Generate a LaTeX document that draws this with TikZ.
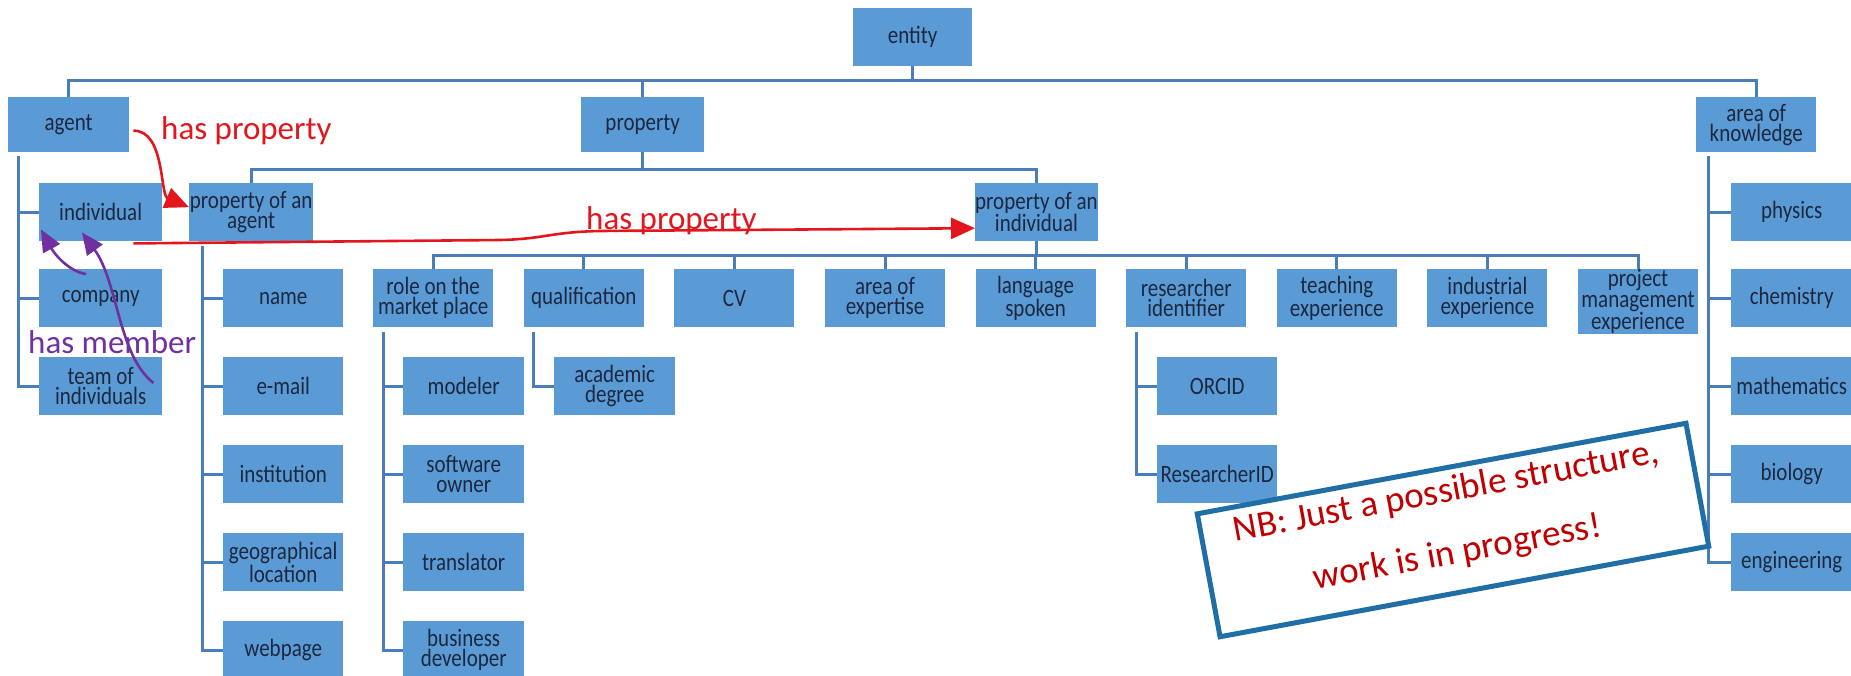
\documentclass[tikz,border=0pt]{standalone}
\usepackage{fontspec}
\setmainfont{Carlito}
\newfontfamily\boxfont{Carlito}[FakeStretch=0.84]
\usetikzlibrary{arrows.meta,calc}
\definecolor{boxblue}{HTML}{5B9BD5}
\definecolor{boxtext}{HTML}{1C2740}
\definecolor{connblue}{HTML}{4A7EBB}
\definecolor{hpred}{HTML}{E3161D}
\definecolor{hmpurple}{HTML}{7030A0}
\definecolor{nbred}{HTML}{C00000}
\definecolor{nbblue}{HTML}{1F6EA6}
\begin{document}
\begin{tikzpicture}[x=1pt,y=-1pt,
  bx/.style={fill=boxblue, text=boxtext, font=\boxfont\fontsize{25}{20}\selectfont, align=center, inner sep=0pt, minimum width=121pt, minimum height=58pt, anchor=north west},
  conn/.style={draw=connblue, line width=3pt},
  hparrow/.style={draw=hpred, line width=2.6pt, -{Triangle[length=24pt,width=21pt]}},
  hmarrow/.style={draw=hmpurple, line width=2.6pt, -{Triangle[length=22pt,width=19pt]}},
  lbl/.style={font=\fontsize{33}{36}\selectfont, inner sep=0pt, anchor=base west}]
\useasboundingbox (0,0) rectangle (1851,675);
\clip (0,0) rectangle (1851,675);

% ---------- boxes ----------
\node[bx, minimum width=119pt] (entity) at (853,8) {entity};
\node[bx, minimum height=55pt] (agent) at (8,97) {agent};
\node[bx, minimum height=55pt, minimum width=123pt] (property) at (581,97) {property};
\node[bx, minimum height=55pt, minimum width=120pt] (aok) at (1696,97) {area of\\knowledge};

\node[bx, minimum width=123pt] (individual) at (39,183) {individual};
\node[bx, minimum width=123pt] (company) at (39,269) {company};
\node[bx, minimum width=123pt] (team) at (39,357) {team of\\individuals};

\node[bx, minimum width=124pt] (propagent) at (189,183) {property of an\\agent};
\node[bx, minimum width=120pt] (propind) at (975,183) {property of an\\individual};

\node[bx, minimum width=120pt] (name) at (223,269) {name};
\node[bx, minimum width=120pt] (email) at (223,357) {e-mail};
\node[bx, minimum width=120pt] (institution) at (223,445) {institution};
\node[bx, minimum width=120pt] (geo) at (223,533) {geographical\\location};
\node[bx, minimum width=120pt] (webpage) at (223,621) {webpage};

\node[bx, minimum width=120pt] (role) at (373,269) {role on the\\market place};
\node[bx, minimum width=120pt] (qual) at (523.6,269) {qualification};
\node[bx, minimum width=120pt] (cv) at (674.2,269) {CV};
\node[bx, minimum width=120pt] (aoe) at (824.8,269) {area of\\expertise};
\node[bx, minimum width=120pt] (lang) at (975.4,269) {language\\spoken};
\node[bx, minimum width=120pt] (resid) at (1126,269) {researcher\\identifier};
\node[bx, minimum width=120pt] (teach) at (1276.6,269) {teaching\\experience};
\node[bx, minimum width=120pt] (indus) at (1427.2,269) {industrial\\experience};
\node[bx, minimum width=120pt] (pm) at (1577.8,269) {project\\management\\experience};

\node[bx] (modeler) at (403,357) {modeler};
\node[bx] (softowner) at (403,445) {software\\owner};
\node[bx] (translator) at (403,533) {translator};
\node[bx] (busdev) at (403,621) {business\\developer};

\node[bx] (acad) at (554,357) {academic\\degree};

\node[bx, minimum width=120pt] (orcid) at (1157,357) {ORCID};
\node[bx, minimum width=120pt] (researcherid) at (1157,445) {ResearcherID};

\node[bx] (physics) at (1731,183) {physics};
\node[bx] (chemistry) at (1731,269) {chemistry};
\node[bx] (mathematics) at (1731,357) {mathematics};
\node[bx] (biology) at (1731,445) {biology};
\node[bx] (engineering) at (1731,533) {engineering};

% ---------- tree connectors ----------
\draw[conn] (entity.south) -- ++(0,14);
\draw[conn] (agent.north) -- ++(0,-17) -| (aok.north);
\draw[conn] (property.north) -- ++(0,-17);

\draw[conn] (property.south) -- ++(0,17);
\draw[conn] (propagent.north) -- ++(0,-14) -| (propind.north);

\draw[conn] (propind.south) -- ++(0,14);
\draw[conn] (role.north) -- ++(0,-14) -| (pm.north);
\foreach \n in {qual,cv,aoe,lang,resid,teach,indus} \draw[conn] (\n.north) -- ++(0,-14);

\draw[conn] ($(agent.south west)+(10,4)$) |- (team.west);
\foreach \n in {individual,company} \draw[conn] (\n.west) -- ++(-21,0);

\draw[conn] ($(propagent.south west)+(13,5)$) |- (webpage.west);
\foreach \n in {name,email,institution,geo} \draw[conn] (\n.west) -- ++(-21,0);

\draw[conn] ($(role.south west)+(10,5)$) |- (busdev.west);
\foreach \n in {modeler,softowner,translator} \draw[conn] (\n.west) -- ++(-20,0);

\draw[conn] ($(qual.south west)+(10,5)$) |- (acad.west);

\draw[conn] ($(resid.south west)+(10,5)$) |- (researcherid.west);
\draw[conn] (orcid.west) -- ++(-21,0);

\draw[conn] ($(aok.south west)+(12,4)$) |- (engineering.west);
\foreach \n in {physics,chemistry,mathematics,biology} \draw[conn] (\n.west) -- ++(-23,0);

% ---------- labels ----------
\node[lbl, text=hpred] (hp1) at (161,139) {has property};
\node[lbl, text=hpred] (hp2) at (586,229) {has property};
\node[lbl, text=hmpurple] (hm) at (28,353) {has member};

% ---------- relation arrows ----------
\draw[hparrow] ($(agent.east)+(4,6)$) .. controls (165,130) and (160,195) .. ($(propagent.west)+(0,-5)$);
\draw[hparrow] ($(individual.south east)+(-29,2)$) -- (500,240) .. controls (545,239) and (550,232) .. (600,231) -- ($(propind.west)+(0,16)$);

\draw[hmarrow] ($(company.north west)+(47,5)$) .. controls (70,272) and (55,255) .. ($(individual.south west)+(2,-12)$);
\draw[hmarrow] ($(team.north east)+(-9,26)$) .. controls (118,355) and (118,282) .. ($(individual.south west)+(43,-9)$);

% ---------- NB note ----------
\node[draw=nbblue, line width=5pt, fill=white, minimum width=497pt, minimum height=125pt, rotate=10.5, inner sep=0pt] (nb) at (1453,530) {};
\node[rotate=10.5, text=nbred, font=\fontsize{37}{62}\selectfont, align=center, inner sep=0pt] (nbtext) at ($(nb.center)+(-1,-7)$) {NB: Just a possible structure,\\work is in progress!};
\end{tikzpicture}
\end{document}
